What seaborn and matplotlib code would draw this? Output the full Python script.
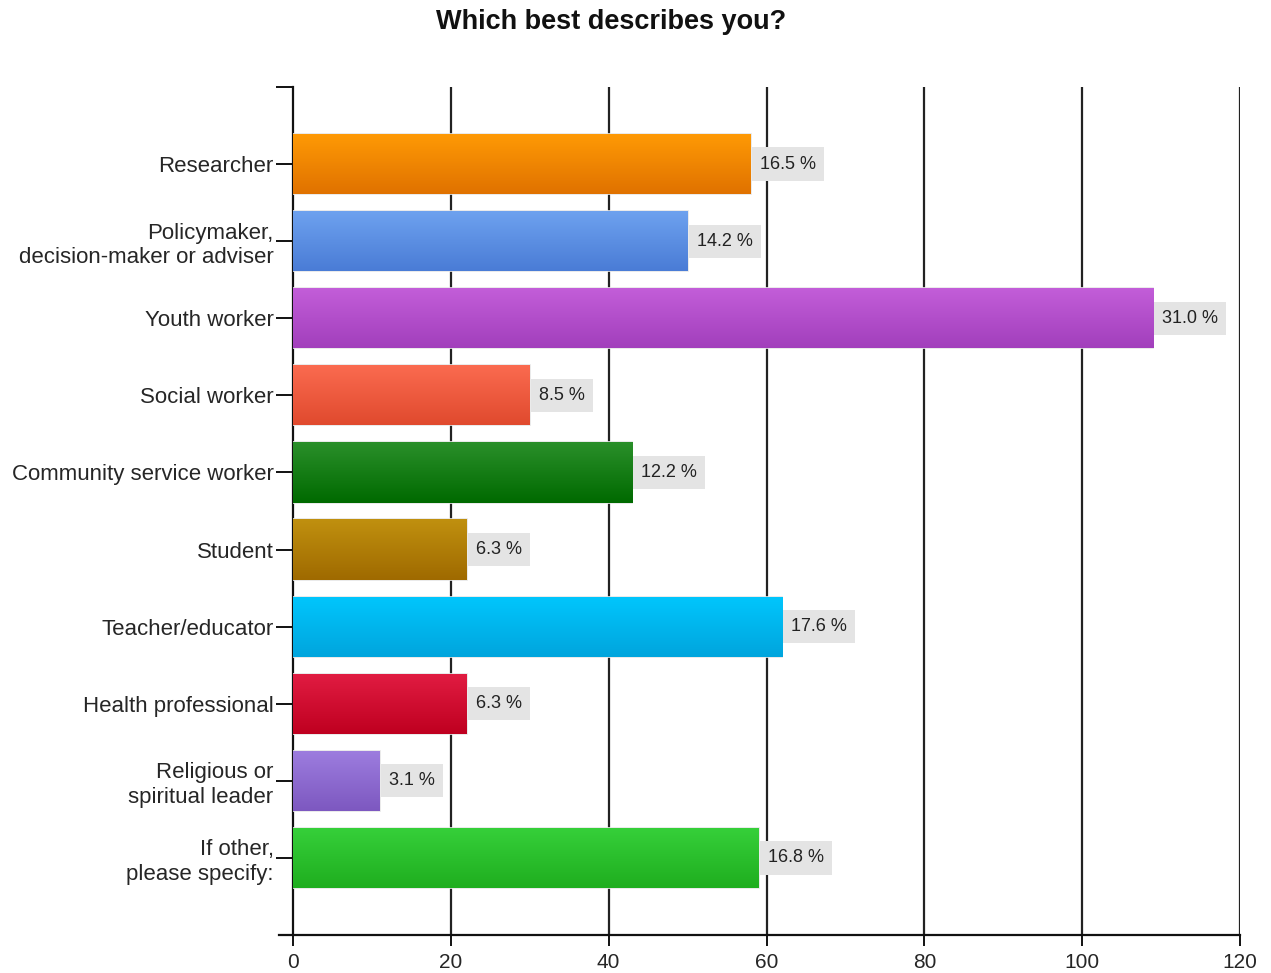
import numpy as np
import pandas as pd
import matplotlib
matplotlib.use('Agg')
import matplotlib.pyplot as plt
import matplotlib.colors as mcolors
import seaborn as sns

categories = [
    'Researcher',
    'Policymaker,\ndecision-maker or adviser',
    'Youth worker',
    'Social worker',
    'Community service worker',
    'Student',
    'Teacher/educator',
    'Health professional',
    'Religious or\nspiritual leader',
    'If other,\nplease specify:',
]
counts = [58, 50, 109, 30, 43, 22, 62, 22, 11, 59]
percents = [16.5, 14.2, 31.0, 8.5, 12.2, 6.3, 17.6, 6.3, 3.1, 16.8]

# gradient colours per bar (top, bottom)
top_colors = ['#ff9a05', '#6ea2ef', '#c35ed9', '#fb6b50', '#2a8f2a',
              '#c0900f', '#00c6fd', '#e11c42', '#9d7ddf', '#36d03a']
bottom_colors = ['#e07200', '#4a7cd6', '#a23fbc', '#e04a2e', '#006a00',
                 '#9f6a00', '#00a5dd', '#bf0020', '#7d58c0', '#1fae1f']

df = pd.DataFrame({'category': categories, 'count': counts})

sns.set_style('white')
plt.rcParams['font.family'] = ['Liberation Sans', 'DejaVu Sans']

fig = plt.figure(figsize=(12.71, 9.73), dpi=100)
ax = fig.add_axes([293 / 1271, 1 - 935 / 973, (1240 - 293) / 1271, (935 - 87) / 973])

sns.barplot(data=df, x='count', y='category', hue='category', palette=top_colors,
            legend=False, ax=ax, width=0.78, saturation=1, zorder=3)

ax.set_xlim(0, 120)
ax.set_ylim(len(categories), -1)

# vertical grid lines behind bars
for gx in range(20, 121, 20):
    ax.axvline(gx, color='#222222', lw=1.6, zorder=1)

# gradient fill on each bar
grad = np.linspace(0, 1, 64).reshape(-1, 1)
for i, p in enumerate(ax.patches[:len(categories)]):
    cmap = mcolors.LinearSegmentedColormap.from_list('g', [top_colors[i], bottom_colors[i]])
    x0, y0 = p.get_x(), p.get_y()
    w, h = p.get_width(), p.get_height()
    p.set_edgecolor('#e6e6e6')
    p.set_linewidth(1.2)
    im = ax.imshow(grad, cmap=cmap, aspect='auto', extent=(x0, x0 + w, y0 + h, y0),
                   zorder=3.5, interpolation='bilinear')
    im.set_clip_path(p)
    ax.text(x0 + w + 1.15, i, f'{percents[i]:.1f} %', va='center', ha='left',
            fontsize=13, color='#222222', zorder=5,
            bbox=dict(boxstyle='square,pad=0.45', fc='#e4e4e4', ec='none'))

ax.set_xlim(0, 120)
ax.set_ylim(len(categories), -1)

for s in ['top', 'right']:
    ax.spines[s].set_visible(False)
ax.spines['left'].set_color('#111111')
ax.spines['left'].set_linewidth(1.6)
ax.spines['bottom'].set_color('#111111')
ax.spines['bottom'].set_linewidth(1.6)
ax.spines['bottom'].set_bounds(-1.8, 120)
ax.spines['bottom'].set_zorder(6)

ax.set_xticks(range(0, 121, 20))
ax.set_yticks(list(range(len(categories))) + [-1])
ax.set_yticklabels(categories + [''])
ax.tick_params(axis='y', direction='out', length=12, width=1.4, color='#111111',
               labelsize=16, pad=2, left=True)
ax.tick_params(axis='x', direction='out', length=8, width=1.4, color='#111111',
               labelsize=15, pad=5, bottom=True)
for lbl in ax.get_yticklabels():
    lbl.set_multialignment('right')
ax.set_xlabel('')
ax.set_ylabel('')
ax.grid(False)

fig.text(611 / 1271, 1 - 22 / 973, 'Which best describes you?', ha='center', va='center',
         fontsize=19.5, fontweight='bold', color='#111111')

fig.savefig('out.png', dpi=100)
